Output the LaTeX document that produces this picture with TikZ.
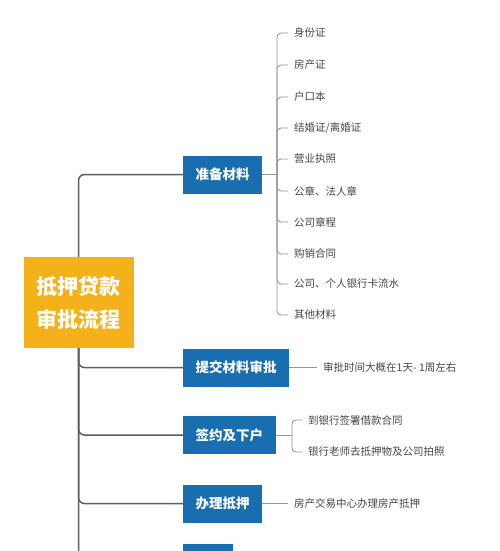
\documentclass[tikz,border=0pt]{standalone}
\usepackage{fontspec}
\setmainfont{Noto Sans CJK SC}
\usetikzlibrary{positioning}
\definecolor{rootorange}{RGB}{245,177,26}
\definecolor{stageblue}{RGB}{24,110,174}
\definecolor{trunkgray}{RGB}{95,95,95}
\definecolor{twiggray}{RGB}{150,150,150}
\definecolor{leaftext}{RGB}{70,70,70}

\begin{document}
\begin{tikzpicture}[x=1pt, y=-1pt,
  root/.style={fill=rootorange, text=white, align=center,
               font=\fontsize{21}{33}\selectfont\bfseries,
               minimum width=110pt, minimum height=91pt, inner sep=0pt},
  stage/.style={fill=stageblue, text=white, anchor=west,
                font=\fontsize{13.5}{16}\selectfont\bfseries,
                minimum height=38pt, inner xsep=12.5pt},
  leaf/.style={text=leaftext, anchor=west, inner xsep=6pt, inner ysep=1pt,
               font=\fontsize{10.5}{12}\selectfont},
  trunk/.style={draw=trunkgray, line width=1.5pt, rounded corners=6pt},
  twig/.style={draw=twiggray, line width=0.9pt, rounded corners=4pt}
]
\fill[white] (0,0) rectangle (500,551);
\clip (0,0) rectangle (500,551);

% main topic and stages
\node[root] (root) at (78.5,302.5) {抵押贷款\\审批流程};
\node[stage] (prep)   at (183,174.5) {准备材料};
\node[stage] (submit) at (183,367.5) {提交材料审批};
\node[stage] (sign)   at (183,435)   {签约及下户};
\node[stage] (mort)   at (183,503.5) {办理抵押};
\node[stage, minimum width=50pt] (next) at (183,562.5) {};

\draw[trunk] (root.north) |- (prep.west);
\draw[trunk] (root.south) |- (submit.west);
\draw[trunk] (root.south) |- (sign.west);
\draw[trunk] (root.south) |- (mort.west);
\draw[trunk] (root.south) |- (next.west);

% materials
\coordinate (prepjoint) at (277,174.5);
\foreach \name/\y/\txt in {m1/33/身份证, m2/65/房产证, m3/97/户口本,
    m4/128/{结婚证/离婚证}, m5/159/营业执照, m6/191/公章、法人章,
    m7/222/公司章程, m8/254/购销合同, m9/284/公司、个人银行卡流水,
    m10/315/其他材料}{
  \node[leaf] (\name) at (288,\y) {\txt};
  \draw[twig] (prepjoint) |- (\name.west);
}
\draw[twig] (prep.east) -- (prepjoint);

% approval time
\node[leaf] (time) at (317,367.5) {审批时间大概在1天- 1周左右};
\draw[twig] (submit.east) -- (time.west);

% signing
\coordinate (signjoint) at (292,435);
\node[leaf] (s1) at (302,420) {到银行签署借款合同};
\node[leaf] (s2) at (302,452) {银行老师去抵押物及公司拍照};
\draw[twig] (sign.east) -- (signjoint);
\draw[twig] (signjoint) |- (s1.west);
\draw[twig] (signjoint) |- (s2.west);

% mortgage
\node[leaf] (house) at (288,503.5) {房产交易中心办理房产抵押};
\draw[twig] (mort.east) -- (house.west);
\end{tikzpicture}
\end{document}
